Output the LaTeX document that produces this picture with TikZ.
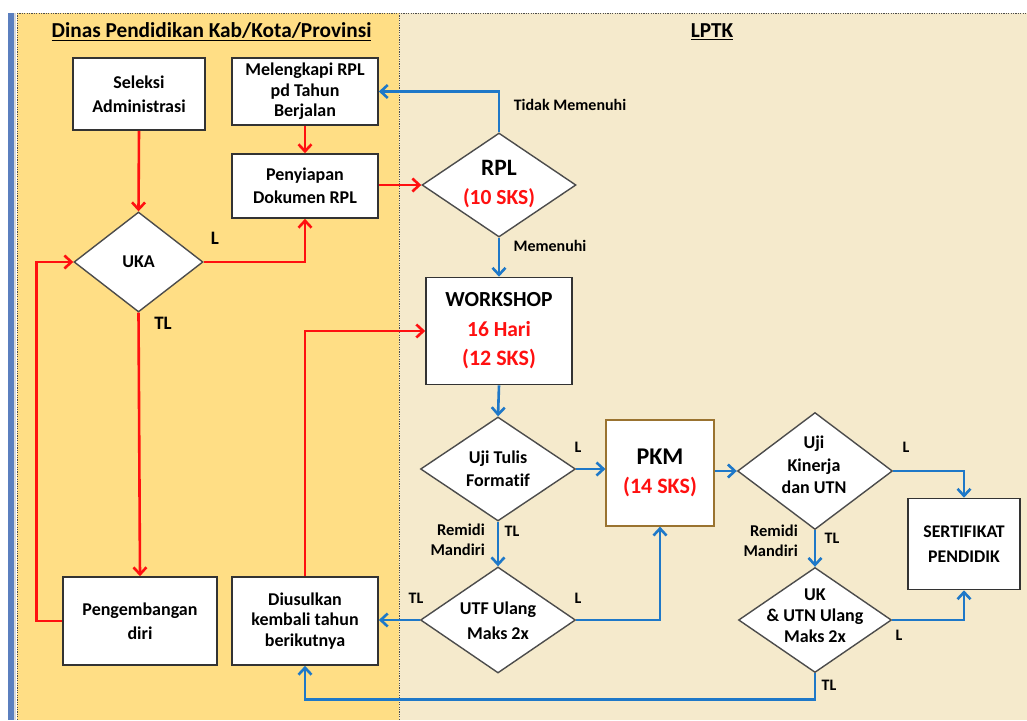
\documentclass[tikz,border=0pt]{standalone}
\usepackage{fontspec}
\setmainfont{Carlito}[RawFeature=-liga]
\usetikzlibrary{arrows.meta,shapes.geometric,calc}
\definecolor{gold}{HTML}{FFDE85}
\definecolor{beige}{HTML}{F5EACC}
\definecolor{rline}{HTML}{FF1010}
\definecolor{bline}{HTML}{1E78C8}
\definecolor{edgeblue}{HTML}{5B7FBF}
\definecolor{pkmedge}{HTML}{9A7330}
\tikzset{
  box/.style={draw=black!80, fill=white, line width=1.6pt, align=center, font=\fontsize{18}{24}\selectfont\bfseries, inner sep=0pt},
  box3/.style={box, font=\fontsize{18}{20.5}\selectfont\bfseries},
  dia/.style={diamond, draw=black!70, fill=white, line width=1.4pt, inner sep=0pt},
  dtext/.style={align=center, font=\fontsize{18}{24}\selectfont\bfseries},
  lbl/.style={font=\fontsize{16}{18}\selectfont\bfseries, inner sep=1pt},
  lbl2/.style={lbl, align=right, anchor=east, font=\fontsize{16.5}{20}\selectfont\bfseries},
  tip/.style={-{Straight Barb[length=7pt,width=13pt]}},
  redl/.style={draw=rline, line width=2.6pt, tip},
  bluel/.style={draw=bline, line width=2.6pt, tip},
  dots/.style={draw=black!70, line width=1pt, dash pattern=on 1.2pt off 1.2pt},
}
\begin{document}
\begin{tikzpicture}[x=1pt,y=-1pt]
\useasboundingbox (0,0) rectangle (1027,720);
\fill[white] (0,0) rectangle (1027,720);
% panels
\fill[gold] (17,13) rectangle (399,720);
\fill[beige] (399,13) rectangle (1027,720);
\fill[edgeblue] (8,13) rectangle (14,720);
\fill[black!15] (14,13) rectangle (16,720);
\draw[dots] (17,13) -- (1027,13);
\draw[dots] (17,13) -- (17,720);
\draw[dots] (399,13) -- (399,720);
% headers
\node[font=\fontsize{21.3}{24}\selectfont\bfseries] (h1) at (211.5,32) {\underline{Dinas Pendidikan Kab/Kota/Provinsi}};
\node[font=\fontsize{21.3}{24}\selectfont\bfseries] (h2) at (712,32) {\underline{LPTK}};
% boxes
\node[box, minimum width=132pt, minimum height=72pt] (sel) at (139,94) {Seleksi\\Administrasi};
\node[box3, minimum width=146pt, minimum height=67pt] (mel) at (305,91.5) {Melengkapi RPL\\pd Tahun\\Berjalan};
\node[box, font=\fontsize{18}{23}\selectfont\bfseries, minimum width=146pt, minimum height=64pt] (pen) at (305,186) {Penyiapan\\Dokumen RPL};
\node[box, minimum width=154pt, minimum height=88pt] (peng) at (140,621) {Pengembangan\\diri};
\node[box3, minimum width=146pt, minimum height=88pt] (diu) at (305,621) {Diusulkan\\kembali tahun\\berikutnya};
\node[box, minimum width=146pt, minimum height=107pt, font=\fontsize{21.5}{29.5}\selectfont\bfseries] (ws) at (499,331) {WORKSHOP\\\textcolor{rline}{16 Hari}\\\textcolor{rline}{\fontsize{22}{29.5}\selectfont(12 SKS)}};
\node[box, draw=pkmedge, line width=1.2pt, minimum width=108pt, minimum height=106pt, font=\fontsize{24}{29}\selectfont\bfseries] (pkm) at (660,473) {PKM\\\textcolor{rline}{\fontsize{22}{29}\selectfont(14 SKS)}};
\node[box, minimum width=112pt, minimum height=91pt, font=\fontsize{17.8}{25}\selectfont\bfseries] (sert) at (964,544) {SERTIFIKAT\\PENDIDIK};
% diamonds
\node[dia, minimum width=129pt, minimum height=100pt] (uka) at (138.5,262) {};
\node[dtext] (ukat) at (uka.center) {UKA};
\node[dia, minimum width=154pt, minimum height=104pt] (rpl) at (499,185) {};
\node[dtext, font=\fontsize{23.5}{29}\selectfont\bfseries] (rplt) at (499,184) {RPL\\\textcolor{rline}{\fontsize{21.5}{29}\selectfont(10 SKS)}};
\node[dia, minimum width=155pt, minimum height=104pt] (ut) at (498,469) {};
\node[dtext, font=\fontsize{18}{23}\selectfont\bfseries] (utt) at (498,469) {Uji Tulis\\Formatif};
\node[dia, minimum width=155pt, minimum height=106pt] (utf) at (498,620) {};
\node[dtext, font=\fontsize{18}{25}\selectfont\bfseries] (utft) at (498,621) {UTF Ulang\\Maks 2x};
\node[dia, minimum width=155pt, minimum height=117pt] (uk) at (815,471) {};
\node[dtext, font=\fontsize{18}{22.5}\selectfont\bfseries] (ukt) at (814,465) {Uji\\Kinerja\\dan UTN};
\node[dia, minimum width=153pt, minimum height=105pt] (ukr) at (815,620) {};
\node[dtext, font=\fontsize{18}{21}\selectfont\bfseries] (ukrt) at (815,616) {UK\\\&{} UTN Ulang\\Maks 2x};
% red connectors
\draw[redl] (sel.south) -- (uka.north);
\draw[redl] (mel.south) -- (pen.north);
\draw[redl] (pen.east |- rpl.west) -- (rpl.west);
\draw[redl] (uka.east) -| (pen.south);
\draw[redl] (uka.south) -- (peng.north);
\draw[redl] (peng.west) -- ++(-26,0) |- (uka.west);
\draw[redl] (diu.north) |- (ws.west);
% blue connectors
\draw[bluel] (rpl.north) |- (mel.east);
\draw[bluel] (rpl.south) -- (ws.north);
\draw[bluel] (ws.south) -- (ut.north);
\draw[bluel] (ut.south) -- (utf.north);
\draw[bluel] (ut.east) -- (ut.east -| pkm.west);
\draw[bluel] (utf.east) -| (pkm.south);
\draw[bluel] (utf.west) -- (utf.west -| diu.east);
\draw[bluel] (pkm.east |- uk.west) -- (uk.west);
\draw[bluel] (uk.east) -| (sert.north);
\draw[bluel] (uk.south) -- (ukr.north);
\draw[bluel] (ukr.east) -| (sert.south);
\draw[bluel] (ukr.south) -- ++(0,26) -| (diu.south);
% labels
\node[lbl, font=\fontsize{19}{20}\selectfont\bfseries] (l1) at (215,238) {L};
\node[lbl, font=\fontsize{19}{20}\selectfont\bfseries] (l2) at (163,323) {TL};
\node[lbl] (l3) at (570,105) {Tidak Memenuhi};
\node[lbl] (l4) at (550,246) {Memenuhi};
\node[lbl] (l5) at (578,447) {L};
\node[lbl2] (l6) at (486,540) {Remidi\\Mandiri};
\node[lbl] (l7) at (512,531) {TL};
\node[lbl] (l8) at (416,598) {TL};
\node[lbl] (l9) at (578,598) {L};
\node[lbl] (l10) at (906,447) {L};
\node[lbl2] (l11) at (799,541) {Remidi\\Mandiri};
\node[lbl] (l12) at (832,538) {TL};
\node[lbl] (l13) at (899,635) {L};
\node[lbl] (l14) at (829,685) {TL};
\end{tikzpicture}
\end{document}
